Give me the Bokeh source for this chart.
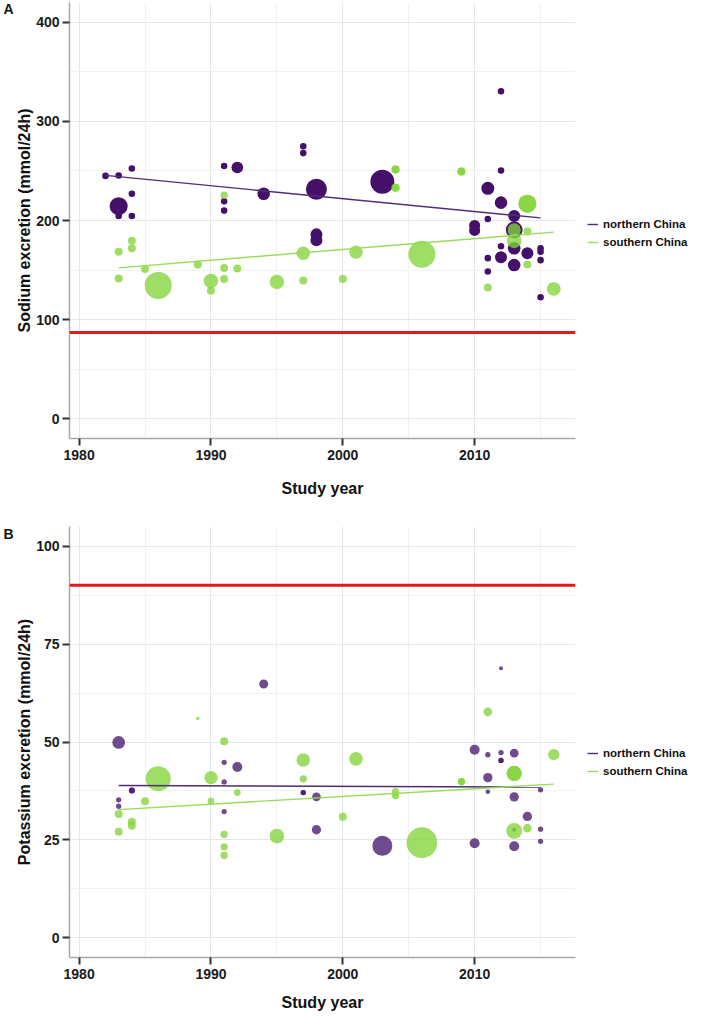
import numpy as np
from bokeh.plotting import figure
from bokeh.layouts import column
from bokeh.models import (ColumnDataSource, Range1d, FixedTicker, Span, Legend,
                          LegendItem, LinearAxis)
from bokeh.embed import file_html
from bokeh.resources import INLINE

# ---------------- data: panel A (sodium) ----------------
na_north_year = [1982, 1983, 1984, 1984, 1983, 1983, 1984, 1991, 1991, 1991, 1992, 1994,
                 1997, 1997, 1998, 1998, 1998, 2003, 2010, 2010, 2011, 2011, 2011, 2011,
                 2012, 2012, 2012, 2012, 2012, 2013, 2013, 2013, 2013, 2014, 2015, 2015,
                 2015, 2015]
na_north_value = [245, 245.5, 252.5, 227, 204.5, 214.5, 204.5, 255, 219.5, 210, 253.5, 227,
                  275, 268, 231.5, 186, 180, 239, 195, 190, 232.5, 201.5, 162, 148.5,
                  330.5, 250.5, 218, 174, 163, 204.5, 190.5, 172, 155, 167, 172, 168.5,
                  160, 122.5]
na_north_n = [1200, 1200, 1200, 1200, 1200, 9000, 1200, 1200, 1200, 1200, 3800, 4400,
              1200, 1200, 12250, 4000, 4000, 16000, 3400, 3400, 4700, 1200, 1200, 1200,
              1200, 1200, 4400, 1200, 4000, 4000, 7750, 4400, 4400, 4000, 1200, 1200,
              1200, 1200]

na_south_year = [1983, 1983, 1984, 1984, 1985, 1986, 1989, 1990, 1990, 1991, 1991, 1991,
                 1992, 1995, 1997, 1997, 2000, 2001, 2004, 2004, 2004, 2004, 2006, 2009,
                 2009, 2011, 2013, 2013, 2014, 2014, 2014, 2014, 2016]
na_south_value = [168.5, 141.5, 179.5, 172, 151, 134.5, 155.5, 139, 129, 225.5, 152, 141,
                  151.5, 138, 167, 139.5, 141, 168, 251.5, 251.5, 233, 233, 166, 249.5,
                  249.5, 132.5, 190.5, 179.5, 217, 217, 189, 155.5, 131]
na_south_n = [1780, 1780, 1780, 1780, 1780, 20250, 1780, 5800, 1780, 1500, 1780, 1780,
              1780, 5800, 5100, 1780, 1780, 4900, 1780, 1780, 1780, 1780, 20250, 1780,
              1780, 1780, 4900, 6000, 9000, 9000, 1780, 1780, 5400]

na_fit_north_year = [1982, 2015]
na_fit_north_value = [245.5, 202.6]
na_fit_south_year = [1983, 2016]
na_fit_south_value = [152.2, 188.3]
na_target = 87

# ---------------- data: panel B (potassium) ----------------
k_north_year = [1983, 1983, 1983, 1984, 1984, 1991, 1991, 1991, 1992, 1994, 1997, 1997,
                1998, 1998, 2003, 2010, 2010, 2011, 2011, 2011, 2012, 2012, 2012, 2012,
                2013, 2013, 2013, 2013, 2014, 2015, 2015, 2015]
k_north_value = [49.9, 35.25, 33.6, 37.6, 37.6, 44.8, 39.8, 32.25, 43.6, 64.8, 37.1, 37.1,
                 36.0, 27.6, 23.5, 48.0, 24.15, 46.75, 40.9, 37.3, 68.8, 47.3, 45.3, 45.3,
                 47.15, 36.0, 27.6, 23.4, 31.0, 37.8, 27.75, 24.65]
k_north_n = [4480, 780, 780, 1000, 1000, 780, 780, 780, 2780, 2250, 780, 780,
             2100, 2400, 11100, 2780, 2780, 780, 2400, 610, 440, 780, 780, 780,
             2100, 2400, 440, 2780, 2400, 780, 780, 780]

k_south_year = [1983, 1983, 1984, 1984, 1985, 1986, 1989, 1990, 1990, 1991, 1991, 1991,
                1991, 1992, 1995, 1997, 1997, 2000, 2001, 2004, 2004, 2006, 2009, 2009,
                2011, 2013, 2013, 2013, 2014, 2016]
k_south_value = [31.65, 27.1, 29.65, 28.6, 34.9, 40.65, 56.0, 40.9, 34.9, 50.2, 26.4, 23.25,
                 21.1, 37.1, 26.0, 45.4, 40.6, 30.9, 45.7, 37.3, 36.3, 24.3, 39.9, 39.9,
                 57.7, 42.0, 42.0, 27.3, 28.0, 46.8]
k_south_n = [1780, 1780, 1780, 1780, 1780, 17400, 360, 4900, 1250, 1780, 1480, 1480,
             1480, 1250, 6000, 5140, 1480, 1780, 5140, 1480, 1480, 26200, 1480, 1480,
             2100, 6500, 6500, 7100, 2100, 3550]

k_fit_north_year = [1983, 2015]
k_fit_north_value = [38.9, 38.5]
k_fit_south_year = [1983, 2016]
k_fit_south_value = [32.75, 39.25]
k_target = 90

# ---------------- axes / labels ----------------
x_ticks = [1980, 1990, 2000, 2010]
x_minor = [1985, 1995, 2005, 2015]
na_ticks = [0, 100, 200, 300, 400]
na_minor = [50, 150, 250, 350]
k_ticks = [0, 25, 50, 75, 100]
k_minor = [12.5, 37.5, 62.5, 87.5]
legend_labels = ["northern China", "southern China"]
x_title = "Study year"
na_title = "Sodium excretion (mmol/24h)"
k_title = "Potassium excretion (mmol/24h)"

FONT = "Liberation Sans"
FRAME_W = 506
GREEN = "#85d33c"
GREEN_ALPHA = 0.78


def diam(n):
    return 6.0 * np.sqrt(np.asarray(n, dtype=float) / 1000.0)


def make_panel(letter, letter_pos, ytitle, yrange, yticks, yminor, north, south,
               fit_n, fit_s, target, purple, purple_alpha, top_border, bottom_border,
               frame_h, legend_y, xlabel_standoff):
    p = figure(frame_width=FRAME_W, frame_height=frame_h,
               x_range=Range1d(1979.27, 2017.65), y_range=Range1d(*yrange),
               output_backend="svg", toolbar_location=None,
               min_border_left=60, min_border_right=118,
               min_border_top=top_border, min_border_bottom=bottom_border,
               outline_line_color=None, background_fill_color="white",
               border_fill_color="white")

    p.xaxis.ticker = FixedTicker(ticks=x_ticks, minor_ticks=x_minor)
    p.yaxis.ticker = FixedTicker(ticks=yticks, minor_ticks=yminor)
    p.xaxis.axis_label = x_title
    p.yaxis.axis_label = ytitle
    for ax in (p.xaxis[0], p.yaxis[0]):
        ax.axis_line_color = "#a8a8a8"
        ax.axis_line_width = 1.5
        ax.major_tick_line_color = "#333333"
        ax.major_tick_line_width = 2
        ax.major_tick_out = 7
        ax.major_tick_in = 0
        ax.minor_tick_line_color = None
        ax.major_label_text_font = FONT
        ax.major_label_text_font_style = "bold"
        ax.major_label_text_font_size = "14px"
        ax.major_label_text_color = "#1a1a1a"
        ax.major_label_standoff = 4
        ax.axis_label_text_font = FONT
        ax.axis_label_text_font_style = "bold"
        ax.axis_label_text_font_size = "16px"
        ax.axis_label_text_color = "#111111"
    p.xaxis.axis_label_standoff = xlabel_standoff
    p.yaxis.major_label_standoff = 3
    p.yaxis.axis_label_standoff = 0

    # panel letter, drawn as an outer label column on the left
    lax = LinearAxis(ticker=FixedTicker(ticks=[letter_pos]),
                     major_label_overrides={letter_pos: letter},
                     axis_line_color=None, major_tick_line_color=None,
                     minor_tick_line_color=None, major_tick_out=0, major_tick_in=0,
                     major_label_standoff=0, axis_label_standoff=0,
                     major_label_text_font=FONT,
                     major_label_text_font_style="bold",
                     major_label_text_font_size="14px",
                     major_label_text_color="#111111")
    p.add_layout(lax, "left")

    for g in (p.xgrid[0], p.ygrid[0]):
        g.grid_line_color = "#e6e6e6"
        g.grid_line_width = 1
        g.minor_grid_line_color = "#f1f1f1"
        g.minor_grid_line_width = 1

    p.add_layout(Span(location=target, dimension="width", line_color="#e2191c",
                      line_width=3))

    ny, nv, nn = north
    sy, sv, sn = south
    src_n = ColumnDataSource(dict(x=ny, y=nv, d=diam(nn)))
    src_s = ColumnDataSource(dict(x=sy, y=sv, d=diam(sn)))
    p.scatter("x", "y", size="d", source=src_n, fill_color=purple,
              fill_alpha=purple_alpha, line_color=None)
    p.scatter("x", "y", size="d", source=src_s, fill_color=GREEN,
              fill_alpha=GREEN_ALPHA, line_color=None)

    ln = p.line(fit_n[0], fit_n[1], line_color="#4f2d74", line_width=1.4)
    ls = p.line(fit_s[0], fit_s[1], line_color="#98dc57", line_width=1.4)

    legend = Legend(items=[LegendItem(label=legend_labels[0], renderers=[ln]),
                           LegendItem(label=legend_labels[1], renderers=[ls])],
                    location=(12, legend_y), orientation="vertical",
                    border_line_color=None, background_fill_alpha=0,
                    padding=3, spacing=0, margin=0,
                    glyph_width=11, glyph_height=18, label_height=18,
                    label_standoff=5, label_text_font=FONT,
                    label_text_font_style="bold", label_text_font_size="11.5px",
                    label_text_color="#111111")
    p.add_layout(legend, "right")
    return p


pa = make_panel("A", 413, na_title, (-20, 420), na_ticks, na_minor,
                (na_north_year, na_north_value, na_north_n),
                (na_south_year, na_south_value, na_south_n),
                (na_fit_north_year, na_fit_north_value),
                (na_fit_south_year, na_fit_south_value),
                na_target, "#45106a", 1.0, 2, 64, 436, 187, 17)

pb = make_panel("B", 103, k_title, (-5, 105), k_ticks, k_minor,
                (k_north_year, k_north_value, k_north_n),
                (k_south_year, k_south_value, k_south_n),
                (k_fit_north_year, k_fit_north_value),
                (k_fit_south_year, k_fit_south_value),
                k_target, "#48186e", 0.78, 24, 5, 431, 177, 12)

layout = column(pa, pb)
open("out.html", "w").write(file_html(layout, INLINE, title="Sodium and potassium excretion"))
